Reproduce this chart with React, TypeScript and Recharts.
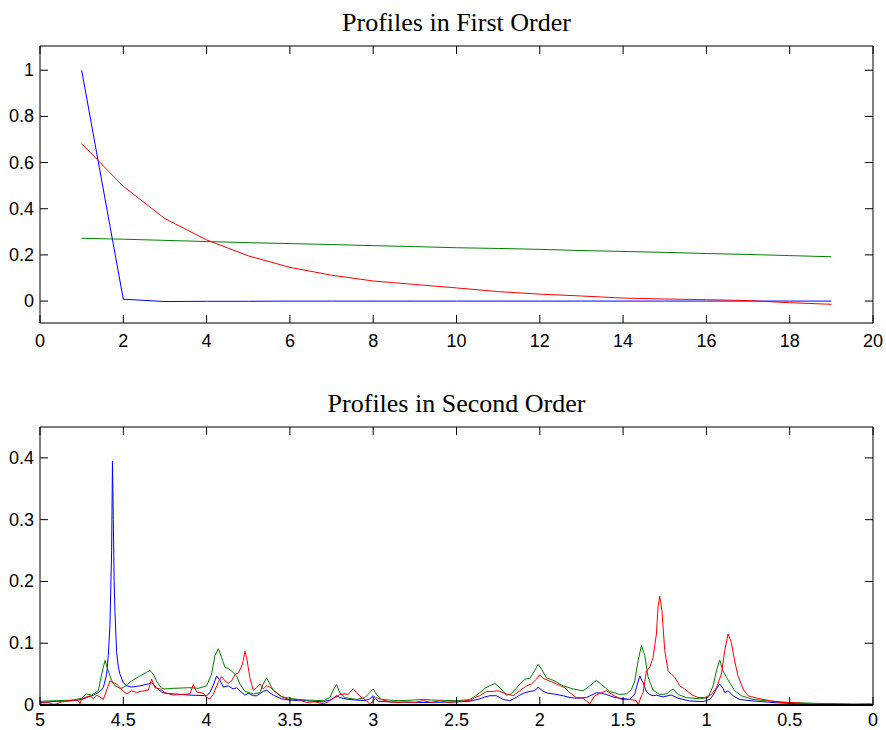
import React from 'react';
import { LineChart, Line, XAxis, YAxis, ReferenceLine } from 'recharts';

// first order: component index 1..19
const steps = [1, 2, 3, 4, 5, 6, 7, 8, 9, 10, 11, 12, 13, 14, 15, 16, 17, 18, 19];
const firstBlue = [1.0, 0.008, -0.002, -0.001, -0.001, 0, 0, 0, 0, 0, 0, 0, 0, 0, 0, 0, 0, 0, 0];
const firstRed = [0.682, 0.497, 0.357, 0.265, 0.196, 0.146, 0.112, 0.087, 0.072, 0.057, 0.041, 0.03, 0.022, 0.013, 0.009, 0.006, 0.002, -0.007, -0.014];
const firstGreen = [0.272, 0.268, 0.263, 0.258, 0.253, 0.249, 0.245, 0.24, 0.236, 0.231, 0.228, 0.224, 0.219, 0.215, 0.211, 0.206, 0.202, 0.197, 0.192];

const firstTicksX = [0, 2, 4, 6, 8, 10, 12, 14, 16, 18, 20];
const firstTicksY = [0, 0.2, 0.4, 0.6, 0.8, 1];

// second order: [ppm, intensity]
const secondBlue: [number, number][] = [
  [5.0, 0.004], [4.95, 0.005], [4.9, 0.006], [4.85, 0.006], [4.8, 0.007], [4.75, 0.009], [4.72, 0.012],
  [4.68, 0.016], [4.65, 0.02], [4.62, 0.028], [4.6, 0.05], [4.59, 0.08], [4.58, 0.13], [4.57, 0.25],
  [4.565, 0.395], [4.56, 0.3], [4.555, 0.2], [4.55, 0.15], [4.54, 0.085], [4.53, 0.062], [4.52, 0.05],
  [4.5, 0.036], [4.48, 0.031], [4.45, 0.029], [4.4, 0.031], [4.35, 0.034], [4.33, 0.036], [4.3, 0.028],
  [4.27, 0.021], [4.25, 0.019], [4.2, 0.018], [4.1, 0.016], [4.0, 0.015], [3.98, 0.02], [3.96, 0.032],
  [3.94, 0.047], [3.92, 0.04], [3.9, 0.029], [3.87, 0.031], [3.84, 0.026], [3.82, 0.028], [3.8, 0.023],
  [3.77, 0.016], [3.75, 0.019], [3.72, 0.015], [3.7, 0.015], [3.66, 0.022], [3.64, 0.024], [3.6, 0.016],
  [3.55, 0.01], [3.5, 0.008], [3.45, 0.007], [3.4, 0.007], [3.3, 0.005], [3.25, 0.009], [3.22, 0.015],
  [3.2, 0.012], [3.15, 0.009], [3.05, 0.007], [3.02, 0.01], [3.0, 0.015], [2.97, 0.006], [2.9, 0.005],
  [2.7, 0.004], [2.5, 0.005], [2.42, 0.006], [2.39, 0.008], [2.36, 0.01], [2.33, 0.013], [2.3, 0.015],
  [2.26, 0.015], [2.22, 0.009], [2.18, 0.007], [2.15, 0.011], [2.12, 0.016], [2.09, 0.02], [2.06, 0.022],
  [2.03, 0.023], [2.01, 0.029], [1.98, 0.022], [1.95, 0.019], [1.92, 0.018], [1.86, 0.015], [1.82, 0.012],
  [1.78, 0.011], [1.72, 0.012], [1.69, 0.016], [1.66, 0.02], [1.63, 0.019], [1.6, 0.017], [1.56, 0.013],
  [1.52, 0.011], [1.46, 0.009], [1.43, 0.018], [1.42, 0.028], [1.4, 0.047], [1.38, 0.036], [1.36, 0.022],
  [1.34, 0.017], [1.32, 0.015], [1.3, 0.016], [1.26, 0.013], [1.23, 0.015], [1.21, 0.016], [1.17, 0.011],
  [1.1, 0.0065], [1.02, 0.0055], [0.98, 0.009], [0.96, 0.016], [0.94, 0.026], [0.92, 0.034], [0.9, 0.027],
  [0.89, 0.02], [0.87, 0.023], [0.84, 0.015], [0.8, 0.009], [0.72, 0.0065], [0.6, 0.004], [0.46, 0.002],
  [0.3, 0.001], [0.15, 0.001], [0.0, 0.001],
];

const secondGreen: [number, number][] = [
  [5.0, 0.006], [4.9, 0.007], [4.8, 0.008], [4.75, 0.011], [4.72, 0.018], [4.69, 0.016], [4.65, 0.023],
  [4.63, 0.05], [4.61, 0.072], [4.59, 0.055], [4.57, 0.04], [4.55, 0.031], [4.52, 0.027], [4.5, 0.028],
  [4.45, 0.039], [4.4, 0.047], [4.36, 0.053], [4.34, 0.056], [4.32, 0.05], [4.3, 0.038], [4.27, 0.027],
  [4.25, 0.026], [4.2, 0.027], [4.1, 0.028], [4.05, 0.027], [4.0, 0.031], [3.97, 0.05], [3.95, 0.08],
  [3.93, 0.091], [3.91, 0.077], [3.89, 0.061], [3.87, 0.059], [3.85, 0.055], [3.82, 0.047], [3.8, 0.034],
  [3.77, 0.022], [3.72, 0.018], [3.68, 0.02], [3.66, 0.034], [3.64, 0.044], [3.62, 0.034], [3.6, 0.024],
  [3.55, 0.013], [3.5, 0.011], [3.45, 0.009], [3.4, 0.008], [3.3, 0.007], [3.26, 0.012], [3.24, 0.024],
  [3.22, 0.033], [3.2, 0.02], [3.17, 0.012], [3.1, 0.009], [3.05, 0.012], [3.02, 0.02], [3.0, 0.026],
  [2.98, 0.017], [2.95, 0.009], [2.85, 0.007], [2.75, 0.008], [2.7, 0.009], [2.65, 0.008], [2.5, 0.007],
  [2.45, 0.008], [2.42, 0.009], [2.39, 0.014], [2.36, 0.02], [2.33, 0.027], [2.3, 0.031], [2.27, 0.035],
  [2.24, 0.028], [2.2, 0.016], [2.17, 0.018], [2.12, 0.034], [2.09, 0.042], [2.06, 0.043], [2.03, 0.056],
  [2.01, 0.066], [1.99, 0.058], [1.96, 0.044], [1.92, 0.04], [1.86, 0.031], [1.8, 0.026], [1.74, 0.023],
  [1.7, 0.031], [1.66, 0.04], [1.63, 0.033], [1.58, 0.022], [1.52, 0.017], [1.48, 0.018], [1.45, 0.025],
  [1.43, 0.039], [1.41, 0.072], [1.39, 0.096], [1.37, 0.08], [1.35, 0.045], [1.32, 0.024], [1.28, 0.017],
  [1.24, 0.018], [1.2, 0.026], [1.17, 0.017], [1.12, 0.012], [1.04, 0.01], [0.99, 0.012], [0.96, 0.031],
  [0.94, 0.055], [0.92, 0.073], [0.9, 0.055], [0.88, 0.045], [0.86, 0.036], [0.83, 0.023], [0.79, 0.015],
  [0.72, 0.009], [0.62, 0.0065], [0.5, 0.004], [0.26, 0.002], [0.0, 0.001],
];

const secondRed: [number, number][] = [
  [5.0, 0.003], [4.95, 0.004], [4.92, 0.001], [4.9, 0.002], [4.87, 0.005], [4.85, 0.006], [4.8, 0.008],
  [4.77, 0.007], [4.76, 0.002], [4.75, 0.01], [4.72, 0.013], [4.7, 0.015], [4.68, 0.01], [4.66, 0.016],
  [4.64, 0.013], [4.62, 0.009], [4.6, 0.024], [4.58, 0.039], [4.56, 0.036], [4.54, 0.034], [4.52, 0.028],
  [4.5, 0.022], [4.48, 0.018], [4.45, 0.023], [4.42, 0.02], [4.4, 0.022], [4.35, 0.024], [4.33, 0.042],
  [4.31, 0.028], [4.28, 0.026], [4.25, 0.02], [4.2, 0.016], [4.15, 0.017], [4.1, 0.018], [4.08, 0.033],
  [4.06, 0.021], [4.02, 0.019], [4.0, 0.012], [3.98, 0.01], [3.96, 0.017], [3.93, 0.037], [3.91, 0.046],
  [3.89, 0.039], [3.87, 0.035], [3.85, 0.039], [3.83, 0.049], [3.81, 0.052], [3.79, 0.062], [3.78, 0.072],
  [3.77, 0.087], [3.76, 0.077], [3.74, 0.044], [3.72, 0.024], [3.7, 0.028], [3.68, 0.034], [3.66, 0.026],
  [3.64, 0.031], [3.62, 0.029], [3.6, 0.024], [3.55, 0.014], [3.5, 0.008], [3.45, 0.009], [3.4, 0.004],
  [3.35, 0.005], [3.3, 0.002], [3.27, 0.005], [3.25, 0.009], [3.23, 0.012], [3.2, 0.017], [3.17, 0.018],
  [3.15, 0.017], [3.13, 0.024], [3.12, 0.026], [3.1, 0.02], [3.07, 0.012], [3.04, 0.007], [3.02, 0.001],
  [3.0, 0.007], [2.98, 0.012], [2.95, 0.009], [2.9, 0.005], [2.85, 0.004], [2.8, 0.005], [2.75, 0.004],
  [2.7, 0.007], [2.65, 0.004], [2.6, 0.007], [2.55, 0.004], [2.5, 0.005], [2.45, 0.007], [2.42, 0.007],
  [2.39, 0.012], [2.36, 0.015], [2.32, 0.022], [2.28, 0.022], [2.25, 0.023], [2.22, 0.02], [2.2, 0.018],
  [2.16, 0.015], [2.12, 0.023], [2.08, 0.031], [2.05, 0.034], [2.02, 0.042], [2.0, 0.049], [1.98, 0.043],
  [1.95, 0.04], [1.9, 0.034], [1.85, 0.028], [1.82, 0.02], [1.78, 0.012], [1.74, 0.011], [1.7, 0.002],
  [1.67, 0.015], [1.63, 0.02], [1.6, 0.023], [1.56, 0.016], [1.51, 0.009], [1.46, 0.009], [1.42, 0.007],
  [1.41, 0.0], [1.39, 0.015], [1.38, 0.02], [1.36, 0.055], [1.34, 0.061], [1.32, 0.077], [1.3, 0.115],
  [1.29, 0.159], [1.28, 0.176], [1.267, 0.153], [1.25, 0.088], [1.23, 0.055], [1.21, 0.05], [1.19, 0.045],
  [1.16, 0.031], [1.13, 0.026], [1.09, 0.017], [1.05, 0.012], [1.01, 0.012], [0.97, 0.017], [0.94, 0.028],
  [0.91, 0.05], [0.89, 0.088], [0.87, 0.115], [0.85, 0.101], [0.83, 0.071], [0.81, 0.047], [0.78, 0.026],
  [0.75, 0.015], [0.71, 0.012], [0.66, 0.009], [0.61, 0.0065], [0.56, 0.004], [0.48, 0.004], [0.36, 0.001],
  [0.24, 0.002], [0.12, 0.001], [0.02, 0.002], [0.0, 0.001],
];

const secondTicksX = [0, 0.5, 1, 1.5, 2, 2.5, 3, 3.5, 4, 4.5, 5];
const secondTicksY = [0, 0.1, 0.2, 0.3, 0.4];

const BLUE = '#0000ff';
const GREEN = '#008000';
const RED = '#ff0000';

const FONT = '"Liberation Sans", Arial, Helvetica, sans-serif';
const TICK_LEN = 8;
const PLOT_W = 833;

const titleStyle: React.CSSProperties = {
  position: 'absolute',
  left: 40,
  width: 833,
  textAlign: 'center',
  fontFamily: '"Liberation Serif", "Times New Roman", serif',
  fontSize: 26,
  lineHeight: '30px',
  color: '#000',
};

// x tick: inward tick at bottom and top of the box, label below
function makeXTick(plotH: number, labelGap: number) {
  return (props: any) => {
    const { x, y, payload } = props;
    return (
      <g>
        <line x1={x} y1={y} x2={x} y2={y - TICK_LEN} stroke="#000" />
        <line x1={x} y1={y - plotH} x2={x} y2={y - plotH + TICK_LEN} stroke="#000" />
        <text x={x} y={y + labelGap} textAnchor="middle" fontSize={18} fontFamily={FONT} fill="#000">
          {payload.value}
        </text>
      </g>
    );
  };
}

// y tick: inward tick at left and right of the box, label to the left
function YTick(props: any) {
  const { x, y, payload } = props;
  return (
    <g>
      <line x1={x} y1={y} x2={x + TICK_LEN} y2={y} stroke="#000" />
      <line x1={x + PLOT_W} y1={y} x2={x + PLOT_W - TICK_LEN} y2={y} stroke="#000" />
      <text x={x - 6} y={y + 6} textAnchor="end" fontSize={18} fontFamily={FONT} fill="#000">
        {payload.value}
      </text>
    </g>
  );
}

const firstRows = steps.map((s, i) => ({ s, blue: firstBlue[i], red: firstRed[i], green: firstGreen[i] }));
const toRows = (pts: [number, number][]) => pts.map(([ppm, v]) => ({ ppm, v }));

export default function App() {
  return (
    <div style={{ position: 'absolute', left: 0, top: 0, width: 886, height: 730, background: '#fff' }}>
      <div style={{ ...titleStyle, top: 8 }}>Profiles in First Order</div>
      <div style={{ position: 'absolute', left: 0, top: 0 }}>
        <LineChart width={886} height={365} data={firstRows} margin={{ top: 46, right: 13, bottom: 0, left: 0 }}>
          <XAxis dataKey="s" type="number" domain={[0, 20]} ticks={firstTicksX} height={42}
            tickSize={0} tickMargin={0} tickLine={false} tick={makeXTick(277, 24)} stroke="#000" interval={0} />
          <YAxis type="number" domain={[-0.095, 1.105]} ticks={firstTicksY} width={40}
            tickSize={0} tickMargin={0} tickLine={false} tick={YTick} stroke="#000" interval={0} />
          <ReferenceLine y={1.105} stroke="#000" />
          <ReferenceLine x={20} stroke="#000" />
          <Line dataKey="blue" stroke={BLUE} dot={false} strokeWidth={1} isAnimationActive={false} />
          <Line dataKey="green" stroke={GREEN} dot={false} strokeWidth={1} isAnimationActive={false} />
          <Line dataKey="red" stroke={RED} dot={false} strokeWidth={1} isAnimationActive={false} />
        </LineChart>
      </div>
      <div style={{ ...titleStyle, top: 389 }}>Profiles in Second Order</div>
      <div style={{ position: 'absolute', left: 0, top: 365 }}>
        <LineChart width={886} height={365} margin={{ top: 62, right: 13, bottom: 0, left: 0 }}>
          <XAxis dataKey="ppm" type="number" domain={[0, 5]} reversed ticks={secondTicksX} height={25}
            tickSize={0} tickMargin={0} tickLine={false} tick={makeXTick(278, 21)} stroke="#000" strokeWidth={2}
            interval={0} allowDuplicatedCategory={false} />
          <YAxis type="number" domain={[0, 0.45]} ticks={secondTicksY} width={40}
            tickSize={0} tickMargin={0} tickLine={false} tick={YTick} stroke="#000" interval={0} />
          <ReferenceLine y={0.45} stroke="#000" />
          <ReferenceLine x={0} stroke="#000" />
          <Line data={toRows(secondBlue)} dataKey="v" stroke={BLUE} dot={false} strokeWidth={1} isAnimationActive={false} />
          <Line data={toRows(secondGreen)} dataKey="v" stroke={GREEN} dot={false} strokeWidth={1} isAnimationActive={false} />
          <Line data={toRows(secondRed)} dataKey="v" stroke={RED} dot={false} strokeWidth={1} isAnimationActive={false} />
        </LineChart>
      </div>
    </div>
  );
}
